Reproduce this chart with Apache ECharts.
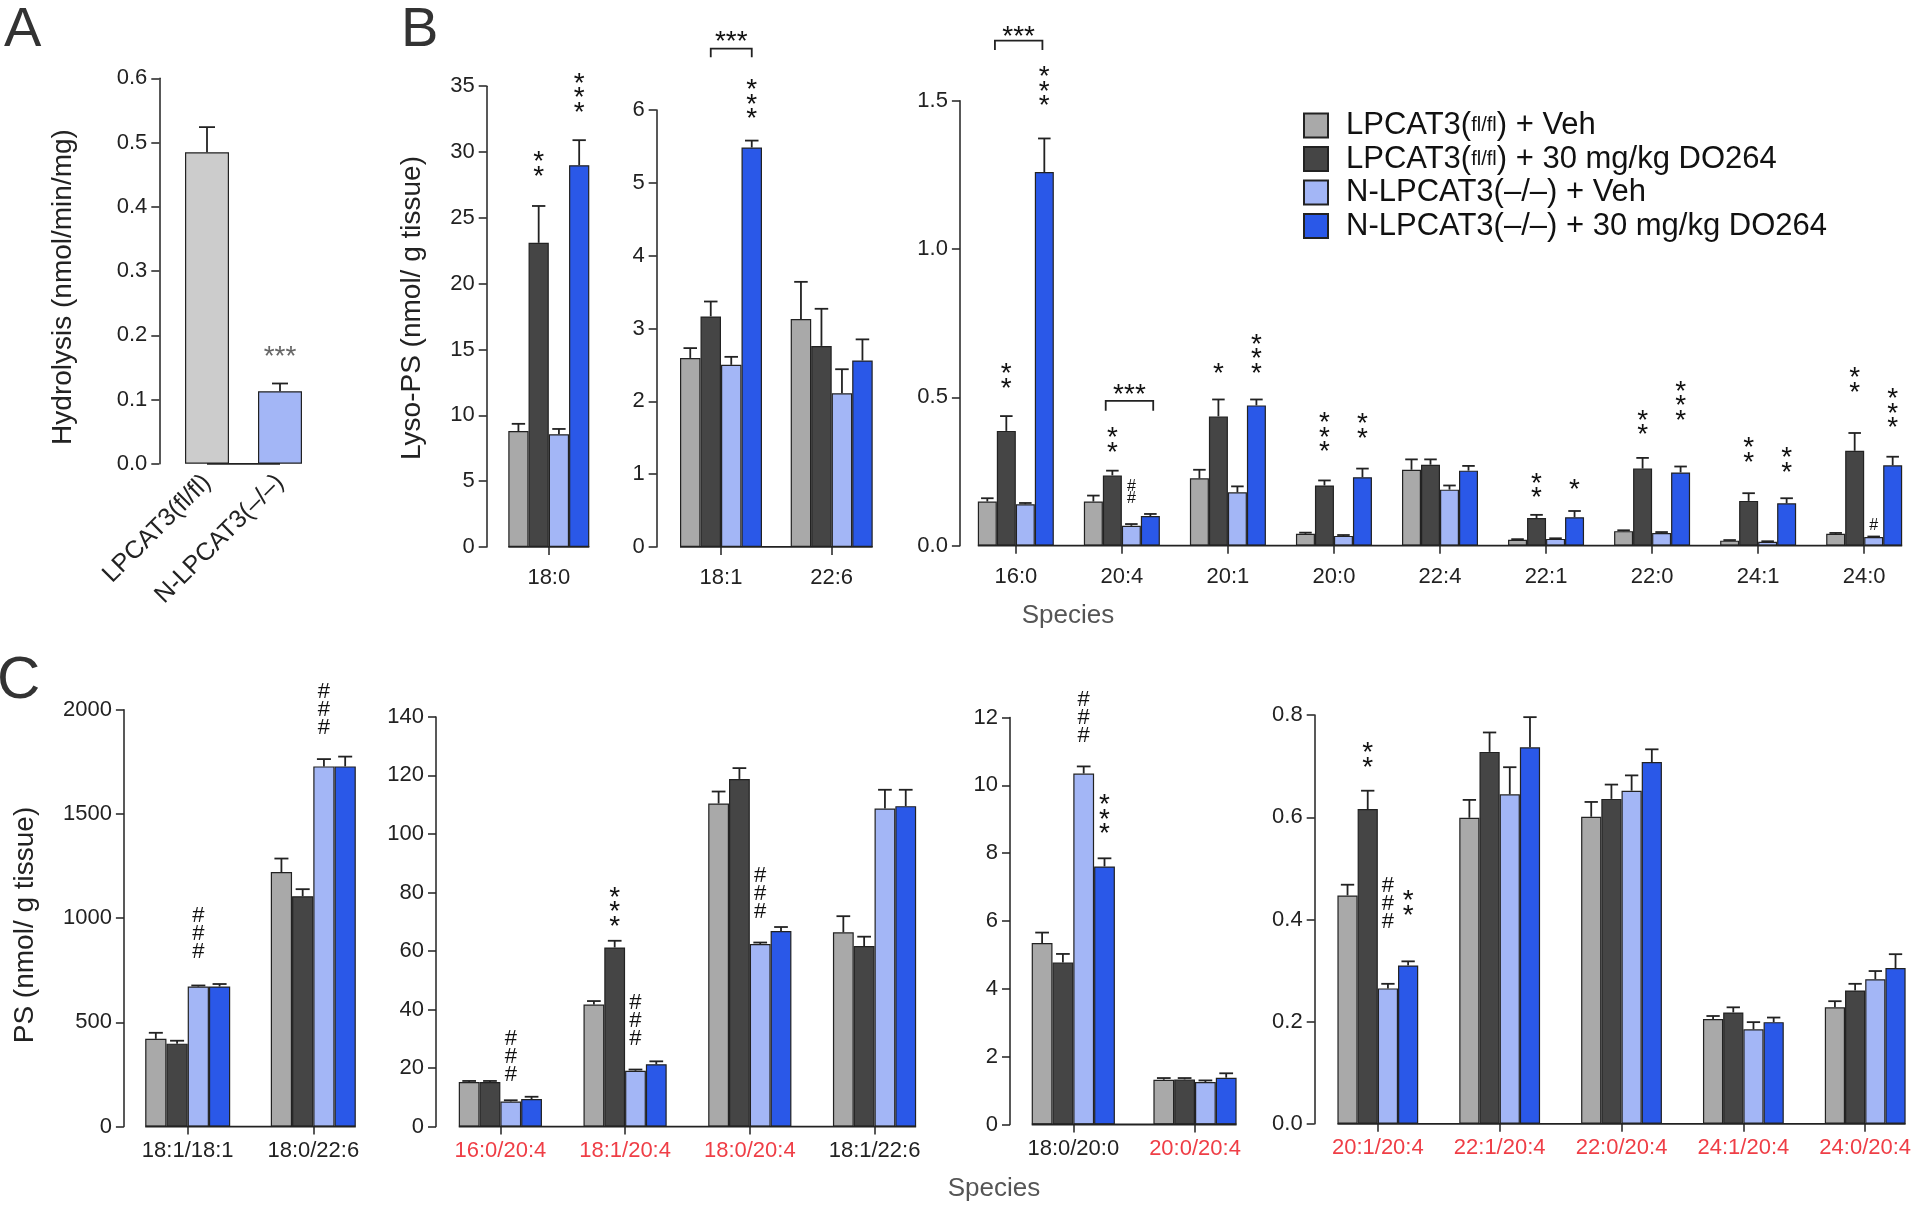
<!DOCTYPE html>
<html><head><meta charset="utf-8">
<script src="https://cdn.jsdelivr.net/npm/echarts@6/dist/echarts.min.js"></script>
<style>html,body{margin:0;padding:0;background:#fff}#c{width:1920px;height:1206px}</style>
</head><body><div id="c"></div>
<script>
// ---------------- DATA ----------------
const SERIES_NAMES = ['LPCAT3(fl/fl) + Veh', 'LPCAT3(fl/fl) + 30 mg/kg DO264', 'N-LPCAT3(–/–) + Veh', 'N-LPCAT3(–/–) + 30 mg/kg DO264'];

// Panel A: hydrolysis
const aCategories = ['LPCAT3(fl/fl)', 'N-LPCAT3(–/–)'];
const aValues = [0.485, 0.113];
const aErrors = [0.039, 0.012];
const aMarks = [[1, 0, 0.177, '***', 'h']];

// Panel B1: Lyso-PS 18:0
const b1Categories = ['18:0'];
const b1FlVeh = [8.8],  b1FlVehSE = [0.55];
const b1FlDrug = [23.1], b1FlDrugSE = [2.8];
const b1KoVeh = [8.56], b1KoVehSE = [0.4];
const b1KoDrug = [29.0], b1KoDrugSE = [1.9];
const b1Marks = [[0, 1, 29.2, '**'], [0, 3, 34.6, '***']];

// Panel B2: Lyso-PS 18:1, 22:6
const b2Categories = ['18:1', '22:6'];
const b2FlVeh = [2.595, 3.13],  b2FlVehSE = [0.135, 0.51];
const b2FlDrug = [3.165, 2.76], b2FlDrugSE = [0.205, 0.51];
const b2KoVeh = [2.50, 2.11],   b2KoVehSE = [0.11, 0.33];
const b2KoDrug = [5.485, 2.56], b2KoDrugSE = [0.095, 0.29];
const b2Marks = [[0, 3, 6.165, '***']];
const b2Brackets = [[0, 1, 3, 6.723, 6.843, '***', 7.03]];

// Panel B3: Lyso-PS minor species
const b3Categories = ['16:0', '20:4', '20:1', '20:0', '22:4', '22:1', '22:0', '24:1', '24:0'];
const b3FlVeh =   [0.149, 0.149, 0.227, 0.040, 0.256, 0.020, 0.049, 0.017, 0.040];
const b3FlVehSE = [0.011, 0.020, 0.029, 0.004, 0.035, 0.002, 0.003, 0.002, 0.003];
const b3FlDrug =   [0.387, 0.237, 0.436, 0.203, 0.273, 0.093, 0.260, 0.151, 0.320];
const b3FlDrugSE = [0.050, 0.016, 0.057, 0.017, 0.018, 0.011, 0.036, 0.026, 0.060];
const b3KoVeh =   [0.140, 0.067, 0.180, 0.033, 0.189, 0.023, 0.043, 0.013, 0.029];
const b3KoVehSE = [0.004, 0.006, 0.020, 0.003, 0.014, 0.002, 0.003, 0.002, 0.002];
const b3KoDrug =   [1.260, 0.100, 0.473, 0.231, 0.253, 0.096, 0.247, 0.143, 0.271];
const b3KoDrugSE = [0.113, 0.007, 0.020, 0.029, 0.016, 0.021, 0.020, 0.017, 0.029];
const b3Marks = [
  [0, 1, 0.577, '**'], [0, 3, 1.553, '***'],
  [1, 1, 0.36, '**'], [1, 2, 0.18, '##'],
  [2, 1, 0.603, '*'], [2, 3, 0.651, '***'],
  [3, 1, 0.387, '***'], [3, 3, 0.407, '**'],
  [5, 1, 0.207, '**'], [5, 3, 0.211, '*'],
  [6, 1, 0.42, '**'], [6, 3, 0.493, '***'],
  [7, 1, 0.327, '**'], [7, 3, 0.293, '**'],
  [8, 1, 0.563, '**'], [8, 2, 0.067, '#'], [8, 3, 0.467, '***']
];
const b3Brackets = [[0, 0.4, 2.9, 1.671, 1.703, '***', 1.739], [1, 0.65, 3.15, 0.455, 0.488, '***', 0.531]];

// Panel C1: PS major species
const c1Categories = ['18:1/18:1', '18:0/22:6'];
const c1FlVeh = [421, 1221],  c1FlVehSE = [29, 65];
const c1FlDrug = [398, 1105], c1FlDrugSE = [14, 34];
const c1KoVeh = [672, 1728],  c1KoVehSE = [5, 35];
const c1KoDrug = [672, 1728], c1KoDrugSE = [12, 47];
const c1Marks = [[0, 2, 924, '###'], [1, 2, 2001, '###']];

// Panel C2
const c2Categories = ['16:0/20:4', '18:1/20:4', '18:0/20:4', '18:1/22:6'];
const c2FlVeh = [15.2, 41.7, 110.4, 66.4],  c2FlVehSE = [0.4, 1.2, 4.1, 5.5];
const c2FlDrug = [15.2, 61.2, 118.8, 61.7], c2FlDrugSE = [0.4, 2.3, 3.7, 3.2];
const c2KoVeh = [8.6, 19.1, 62.4, 108.7],   c2KoVehSE = [0.4, 0.4, 0.5, 6.4];
const c2KoDrug = [9.4, 21.3, 66.8, 109.5],  c2KoDrugSE = [0.8, 1.0, 1.4, 5.6];
const c2Marks = [[0, 2, 23.8, '###'], [1, 1, 75.6, '***'], [1, 2, 36.1, '###'], [2, 2, 79.6, '###']];

// Panel C3
const c3Categories = ['18:0/20:0', '20:0/20:4'];
const c3FlVeh = [5.35, 1.32],  c3FlVehSE = [0.31, 0.05];
const c3FlDrug = [4.78, 1.33], c3FlDrugSE = [0.25, 0.04];
const c3KoVeh = [10.35, 1.25], c3KoVehSE = [0.21, 0.05];
const c3KoDrug = [7.61, 1.38], c3KoDrugSE = [0.24, 0.13];
const c3Marks = [[0, 2, 11.98, '###'], [0, 3, 9.19, '***']];

// Panel C4
const c4Categories = ['20:1/20:4', '22:1/20:4', '22:0/20:4', '24:1/20:4', '24:0/20:4'];
const c4FlVeh = [0.447, 0.599, 0.601, 0.205, 0.228],  c4FlVehSE = [0.021, 0.035, 0.029, 0.006, 0.012];
const c4FlDrug = [0.616, 0.728, 0.636, 0.218, 0.261], c4FlDrugSE = [0.036, 0.038, 0.028, 0.010, 0.013];
const c4KoVeh = [0.265, 0.645, 0.652, 0.185, 0.283],  c4KoVehSE = [0.009, 0.053, 0.030, 0.014, 0.016];
const c4KoDrug = [0.310, 0.737, 0.708, 0.199, 0.305], c4KoDrugSE = [0.008, 0.059, 0.025, 0.009, 0.027];
const c4Marks = [[0, 1, 0.724, '**'], [0, 2, 0.431, '###'], [0, 3, 0.435, '**']];

// ---------------- STYLE / LAYOUT ----------------
const FONT = "'Liberation Sans', Arial, Helvetica, sans-serif";
const COLORS = ['#a9a9a9', '#454545', '#a3b6f6', '#2a58e8'];
const A_COLORS = ['#cccccc', '#a3b6f6'];
const RED = '#ef3e46';
const INK = '#222';

const panels = [
  {cats: aCategories, means: [aValues], ses: [aErrors], marks: aMarks, brackets: [], single: true,
   max: 0.6, interval: 0.1, dec: 1, left: 170.5, top: 78.3, width: 146, height: 385.5, yOffset: 11.2, barW: 44,
   rotate: 45, labelMargin: 15, markColor: '#666'},
  {cats: b1Categories, means: [b1FlVeh, b1FlDrug, b1KoVeh, b1KoDrug], ses: [b1FlVehSE, b1FlDrugSE, b1KoVehSE, b1KoDrugSE],
   marks: b1Marks, brackets: [], max: 35, interval: 5, dec: 0, left: 508.3, top: 86.2, width: 81, height: 460.7, yOffset: 21.6, barW: 20.25,
   labelMargin: 20},
  {cats: b2Categories, means: [b2FlVeh, b2FlDrug, b2KoVeh, b2KoDrug], ses: [b2FlVehSE, b2FlDrugSE, b2KoVehSE, b2KoDrugSE],
   marks: b2Marks, brackets: b2Brackets, max: 6, interval: 1, dec: 0, left: 665.65, top: 110, width: 221.4, height: 436.9, yOffset: 9, barW: 20.5, labelMargin: 20},
  {cats: b3Categories, means: [b3FlVeh, b3FlDrug, b3KoVeh, b3KoDrug], ses: [b3FlVehSE, b3FlDrugSE, b3KoVehSE, b3KoDrugSE],
   marks: b3Marks, brackets: b3Brackets, max: 1.5, interval: 0.5, dec: 1, left: 962.8, top: 100.8, width: 954.4, height: 444.9, yOffset: 2.9, barW: 19,
   labelMargin: 20, hashFont: 16, hashLH: 12},
  {cats: c1Categories, means: [c1FlVeh, c1FlDrug, c1KoVeh, c1KoDrug], ses: [c1FlVehSE, c1FlDrugSE, c1KoVehSE, c1KoDrugSE],
   marks: c1Marks, brackets: [], max: 2000, interval: 500, dec: 0, left: 124.9, top: 709.7, width: 251.2, height: 416.9, yOffset: 1, barW: 21.25,
   labelMargin: 13, redAA: true},
  {cats: c2Categories, means: [c2FlVeh, c2FlDrug, c2KoVeh, c2KoDrug], ses: [c2FlVehSE, c2FlDrugSE, c2KoVehSE, c2KoDrugSE],
   marks: c2Marks, brackets: [], max: 140, interval: 20, dec: 0, left: 438, top: 716.9, width: 498.9, height: 409.7, yOffset: 2, barW: 20.8,
   labelMargin: 13, redAA: true},
  {cats: c3Categories, means: [c3FlVeh, c3FlDrug, c3KoVeh, c3KoDrug], ses: [c3FlVehSE, c3FlDrugSE, c3KoVehSE, c3KoDrugSE],
   marks: c3Marks, brackets: [], max: 12, interval: 2, dec: 0, left: 1012.45, top: 717.6, width: 243.4, height: 406.9, yOffset: 2.45, barW: 20.8,
   labelMargin: 13, redAA: true},
  {cats: c4Categories, means: [c4FlVeh, c4FlDrug, c4KoVeh, c4KoDrug], ses: [c4FlVehSE, c4FlDrugSE, c4KoVehSE, c4KoDrugSE],
   marks: c4Marks, brackets: [], max: 0.8, interval: 0.2, dec: 1, left: 1316.9, top: 715.1, width: 609.25, height: 408.7, yOffset: 2.2, barW: 20.2,
   labelMargin: 13, redAA: true}
];

const grids = [], xAxes = [], yAxes = [], series = [];

panels.forEach((p, pi) => {
  const nS = p.means.length;
  grids.push({left: p.left, top: p.top, width: p.width, height: p.height, containLabel: false, outerBoundsMode: 'none'});
  xAxes.push({
    gridIndex: pi, type: 'category', data: p.cats,
    axisLine: {show: false},
    axisTick: {show: !p.single, alignWithLabel: true, length: 8, lineStyle: {color: INK, width: 1.5}},
    axisLabel: {
      fontSize: p.single ? 25 : 22, fontFamily: FONT, margin: p.labelMargin, rotate: p.rotate || 0, interval: 0,
      color: (v) => (p.redAA && v.indexOf('20:4') >= 0) ? RED : INK
    },
    splitLine: {show: false}
  });
  yAxes.push({
    gridIndex: pi, type: 'value', min: 0, max: p.max, interval: p.interval, offset: p.yOffset,
    axisLine: {show: true, lineStyle: {color: INK, width: 1.5}},
    axisTick: {show: true, length: 8, lineStyle: {color: INK, width: 1.5}},
    axisLabel: {fontSize: 22, fontFamily: FONT, color: INK, margin: 12, formatter: (v) => v.toFixed(p.dec)},
    splitLine: {show: false}
  });

  // bars
  if (p.single) {
    series.push({
      type: 'bar', name: 'Hydrolysis', xAxisIndex: pi, yAxisIndex: pi, barWidth: p.barW, silent: true,
      data: p.means[0].map((v, i) => ({value: v, itemStyle: {color: A_COLORS[i]}})),
      itemStyle: {borderColor: INK, borderWidth: 1.2}, z: 2
    });
  } else {
    p.means.forEach((arr, s) => {
      series.push({
        type: 'bar', name: SERIES_NAMES[s], xAxisIndex: pi, yAxisIndex: pi, barWidth: p.barW, barGap: '0%', silent: true,
        data: arr, itemStyle: {color: COLORS[s], borderColor: INK, borderWidth: 1.2}, z: 2
      });
    });
  }

  // baseline (x axis line under bars)
  const nC = p.cats.length;
  series.push({
    type: 'custom', xAxisIndex: pi, yAxisIndex: pi, silent: true, clip: false, z: 4,
    data: [[0, 0]], encode: {x: 0, y: 1},
    renderItem(params, api) {
      const a = api.coord([0, 0]), b = api.coord([nC - 1, 0]);
      const half = p.single ? 0 : nS * p.barW / 2;
      return {type: 'line', shape: {x1: a[0] - half, y1: a[1], x2: b[0] + half, y2: a[1]},
              style: {stroke: INK, lineWidth: 1.8}};
    }
  });

  // error bars
  const eData = [];
  p.means.forEach((arr, s) => arr.forEach((v, c) => eData.push([c, v, v + p.ses[s][c], s])));
  series.push({
    type: 'custom', xAxisIndex: pi, yAxisIndex: pi, silent: true, clip: false, z: 5,
    data: eData, encode: {x: 0, y: [1, 2]},
    renderItem(params, api) {
      const c = api.value(0), s = api.value(3);
      const p0 = api.coord([c, api.value(1)]);
      const p1 = api.coord([c, api.value(2)]);
      const x = p0[0] + (s - (nS - 1) / 2) * p.barW;
      const cap = Math.min(p.barW * 0.33, 8);
      return {type: 'group', children: [
        {type: 'line', shape: {x1: x, y1: p0[1], x2: x, y2: p1[1]}, style: {stroke: INK, lineWidth: 1.8}},
        {type: 'line', shape: {x1: x - cap, y1: p1[1], x2: x + cap, y2: p1[1]}, style: {stroke: INK, lineWidth: 1.8}}
      ]};
    }
  });

  // significance marks and brackets
  const items = p.marks.map(m => ({k: 'm', m})).concat(p.brackets.map(b => ({k: 'b', b})));
  if (items.length) {
    series.push({
      type: 'custom', xAxisIndex: pi, yAxisIndex: pi, silent: true, clip: false, z: 6,
      data: items.map(it => it.k === 'm' ? [it.m[0], it.m[2]] : [it.b[0], it.b[4]]),
      encode: {x: 0, y: 1},
      renderItem(params, api) {
        const it = items[params.dataIndex];
        const color = p.markColor || '#111';
        function textEl(txt, x, y, horizontal) {
          const star = txt[0] === '*';
          const fs = star ? 28 : (p.hashFont || 22);
          const lh = star ? 14.5 : (p.hashLH || 18);
          const t = horizontal ? txt : txt.split('').join('\n');
          return {type: 'text', x: x, y: y + (star ? 7 : 0),
            style: {text: t, fontSize: fs, fontFamily: FONT, fill: color, align: 'center', verticalAlign: 'middle', lineHeight: lh}};
        }
        if (it.k === 'm') {
          const [c, s, y, txt, dir] = it.m;
          const pt = api.coord([c, y]);
          const x = pt[0] + (s - (nS - 1) / 2) * p.barW;
          return textEl(txt, x, pt[1], dir === 'h');
        }
        const [c, s1, s2, yLeg, yTop, txt, yTxt] = it.b;
        const ctr = api.coord([c, yTop]);
        const leg = api.coord([c, yLeg]);
        const tp = api.coord([c, yTxt]);
        const x1 = ctr[0] + (s1 - (nS - 1) / 2) * p.barW;
        const x2 = ctr[0] + (s2 - (nS - 1) / 2) * p.barW;
        return {type: 'group', children: [
          {type: 'polyline', shape: {points: [[x1, leg[1]], [x1, ctr[1]], [x2, ctr[1]], [x2, leg[1]]]},
           style: {stroke: INK, lineWidth: 1.8, fill: null}},
          textEl(txt, (x1 + x2) / 2, tp[1], true)
        ]};
      }
    });
  }
});

function vLabel(text, x, y) {
  return {type: 'text', x: x, y: y, rotation: Math.PI / 2,
    style: {text: text, fontSize: 28, fontFamily: FONT, fill: INK, align: 'center', verticalAlign: 'middle'}};
}

const option = {
  animation: false,
  backgroundColor: '#fff',
  textStyle: {fontFamily: FONT},
  grid: grids, xAxis: xAxes, yAxis: yAxes, series: series,
  legend: {
    data: SERIES_NAMES, orient: 'vertical', left: 1298, top: 105, itemWidth: 24, itemHeight: 24, itemGap: 2.5,
    icon: 'rect', selectedMode: false,
    formatter: (name) => name.replace('(fl/fl)', '({s|fl/fl})'),
    textStyle: {fontSize: 31, fontFamily: FONT, color: '#111', lineHeight: 30, padding: [0, 0, 0, 13],
      rich: {s: {fontSize: 20, fontFamily: FONT, color: '#111', lineHeight: 30}}}
  },
  graphic: [
    {type: 'text', left: 4, top: 3, style: {text: 'A', fontSize: 56, fontFamily: FONT, fill: '#333'}},
    {type: 'text', left: 401, top: 3, style: {text: 'B', fontSize: 56, fontFamily: FONT, fill: '#333'}},
    {type: 'text', left: -3, top: 651, style: {text: 'C', fontSize: 60, fontFamily: FONT, fill: '#333'}},
    vLabel('Hydrolysis (nmol/min/mg)', 63, 287),
    vLabel('Lyso-PS (nmol/ g tissue)', 412, 308),
    vLabel('PS (nmol/ g tissue)', 25, 925),
    {type: 'text', x: 1068, y: 616, style: {text: 'Species', fontSize: 26, fontFamily: FONT, fill: '#555', align: 'center', verticalAlign: 'middle'}},
    {type: 'text', x: 994, y: 1189, style: {text: 'Species', fontSize: 26, fontFamily: FONT, fill: '#555', align: 'center', verticalAlign: 'middle'}}
  ]
};

const chart = echarts.init(document.getElementById('c'), null, {renderer: 'canvas', width: 1920, height: 1206});
chart.setOption(option);
</script>
</body></html>
